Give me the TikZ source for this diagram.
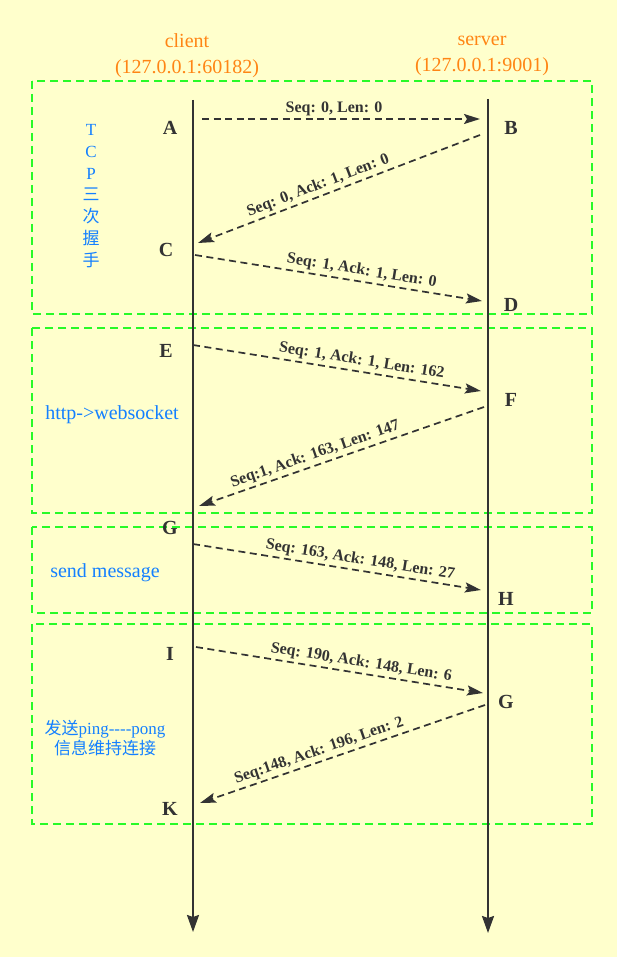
\documentclass[tikz,border=0pt]{standalone}
\usepackage{fontspec}
\setmainfont{Liberation Serif}
\newfontfamily\cjk{Noto Sans CJK SC}
\usetikzlibrary{arrows.meta}
\definecolor{cus-bg}{RGB}{255,255,204}
\definecolor{cus-green}{RGB}{40,250,40}
\definecolor{cus-orange}{RGB}{255,133,20}
\definecolor{cus-blue}{RGB}{20,128,255}
\definecolor{cus-dark}{RGB}{51,51,51}

\begin{document}
\begin{tikzpicture}[x=1pt,y=-1pt,
	life/.style={draw=cus-dark,line width=2pt,-{Stealth[length=17pt,width=12pt,inset=2pt]}},
	msg/.style={draw=cus-dark,line width=1.7pt,dash pattern=on 7pt off 4.5pt,
		-{Stealth[length=16pt,width=10pt,inset=3pt]}},
	msglabel/.style={font=\bfseries\fontsize{16}{16}\selectfont,text=cus-dark,sloped,above=1.5pt,inner sep=1pt},
	phase/.style={draw=cus-green,line width=2pt,dash pattern=on 8pt off 5pt},
	host/.style={font=\fontsize{20}{26}\selectfont,text=cus-orange,align=center},
	point/.style={font=\bfseries\fontsize{20}{20}\selectfont,text=cus-dark},
	note/.style={text=cus-blue,align=center}]
\fill [cus-bg] (0,0) rectangle (617,957);
\useasboundingbox (0,0) rectangle (617,957);

\node [host] (client) at (187,56) {client\\(127.0.0.1:60182)};
\node [host] (server) at (482,56) {server\\(127.0.0.1:9001)};

% phases
\draw [phase] (32,81) rectangle (592,314);
\draw [phase] (32,328) rectangle (592,513);
\draw [phase] (32,527) rectangle (592,613);
\draw [phase] (32,624) rectangle (592,824);

\coordinate (cTop) at (193,100);
\coordinate (cBot) at (193,932);
\coordinate (sTop) at (488,99);
\coordinate (sBot) at (488,933);
\draw [life] (cTop) -- (cBot);
\draw [life] (sTop) -- (sBot);

\foreach \n/\t/\x/\y in {A/A/170/128, B/B/511/128, C/C/166/250, D/D/511/305,
		E/E/166/351, F/F/511/400, G/G/170/528, H/H/506/599,
		I/I/170/654, G2/G/506/702, K/K/170/809}
	\node [point] (\n) at (\x,\y) {\t};

\foreach \i/\xa/\ya/\xb/\yb/\p/\t in {
		1/202/119/480/119/.475/{Seq: 0, Len: 0},
		2/480/135/198/243/.56/{Seq: 0, Ack: 1, Len: 0},
		3/195/255/482/301/.575/{Seq: 1, Ack: 1, Len: 0},
		4/193/345/481/391/.58/{Seq: 1, Ack: 1, Len: 162},
		5/484/407/199/506/.58/{Seq:1, Ack: 163, Len: 147},
		6/193/544/481/590/.575/{Seq: 163, Ack: 148, Len: 27},
		7/196/647/483/693/.57/{Seq: 190, Ack: 148, Len: 6},
		8/485/705/200/803/.57/{Seq:148, Ack: 196, Len: 2}}{
	\coordinate (m\i s) at (\xa,\ya);
	\coordinate (m\i e) at (\xb,\yb);
	\draw [msg] (m\i s) -- node [msglabel,pos=\p] {\t} (m\i e);
}

\node [note,font=\fontsize{17}{21.8}\selectfont] (tcp) at (91,196)
	{T\\C\\P\\{\cjk 三}\\{\cjk 次}\\{\cjk 握}\\{\cjk 手}};
\node [note,font=\fontsize{20}{20}\selectfont] (upgrade) at (112,415) {http->websocket};
\node [note,font=\fontsize{20}{20}\selectfont] (send) at (105,573) {send message};
\node [note,font=\fontsize{17}{20}\selectfont] (ping) at (105,738)
	{{\cjk 发送}ping-{}-{}-{}-pong\\{\cjk 信息维持连接}};
\end{tikzpicture}
\end{document}
